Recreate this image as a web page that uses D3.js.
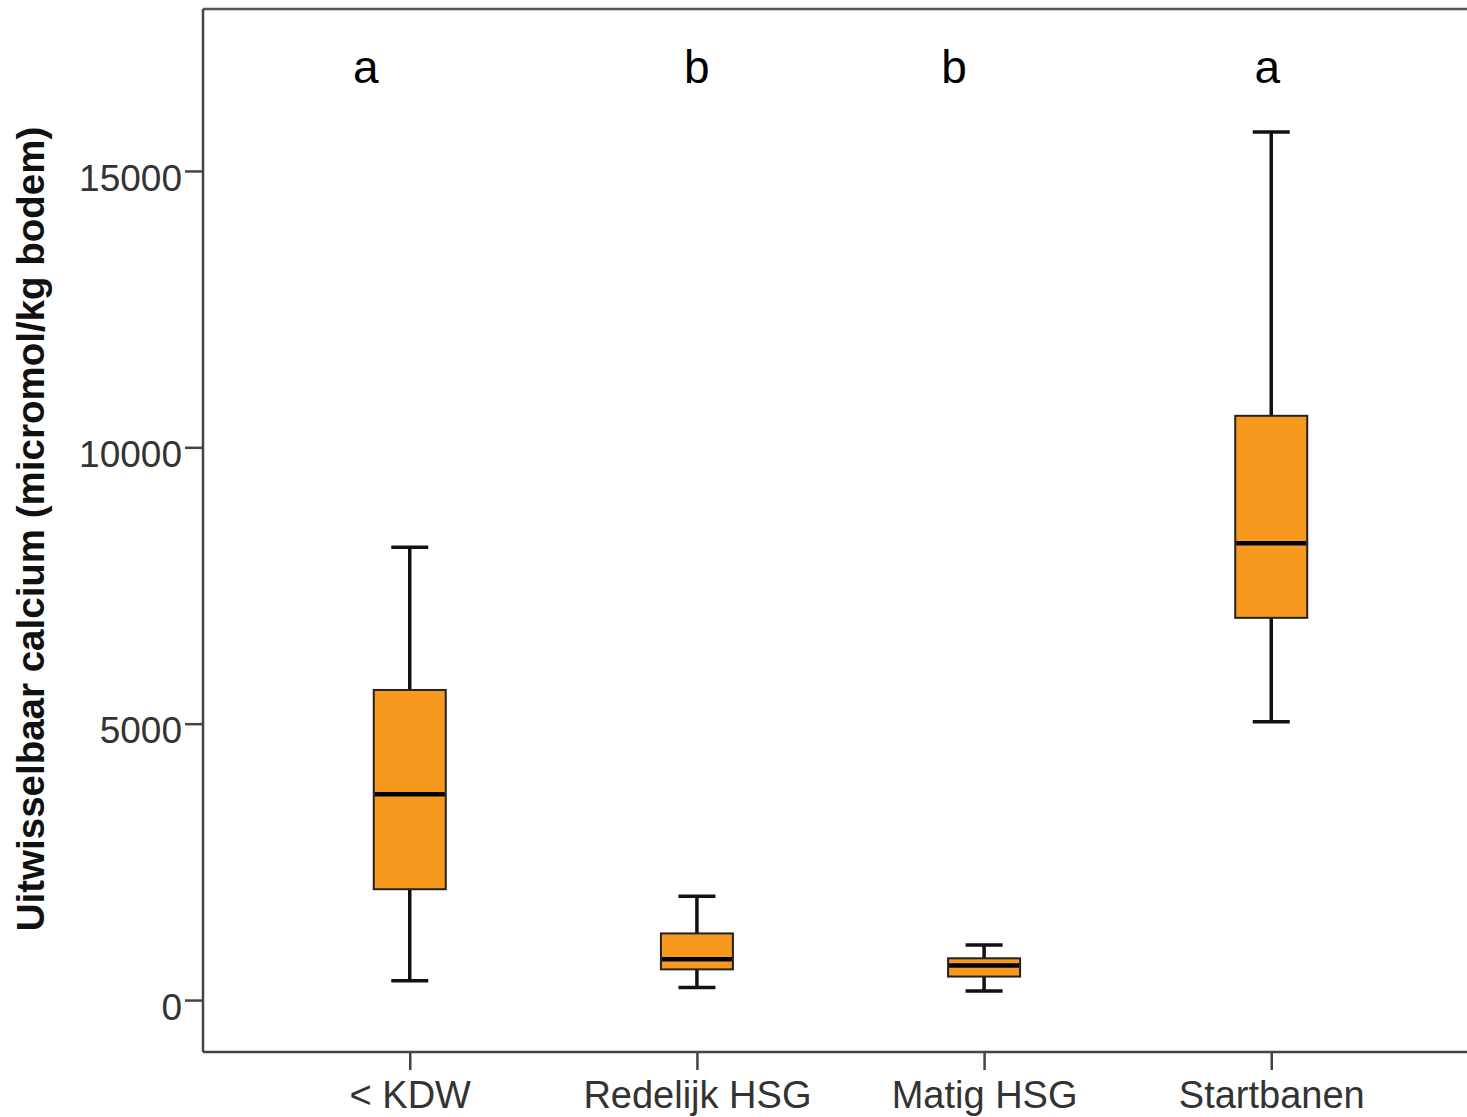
<!DOCTYPE html>
<html>
<head>
<meta charset="utf-8">
<script src="https://cdn.jsdelivr.net/npm/d3@7"></script>
<style>
  html, body { margin: 0; padding: 0; background: #fff; }
  svg { display: block; }
  text { font-family: "Liberation Sans", Arial, sans-serif; }
</style>
</head>
<body>
<svg id="chart" width="1467" height="1117"></svg>
<script>
// ---- Data ----
const categories = ["< KDW", "Redelijk HSG", "Matig HSG", "Startbanen"];
const whiskerLow  = [350, 225, 165, 5035];
const q1          = [2005, 555, 425, 6915];
const median      = [3725, 740, 625, 8265];
const q3          = [5610, 1205, 755, 10570];
const whiskerHigh = [8190, 1880, 995, 15705];
const groupLetters = ["a", "b", "b", "a"];
const yTicks = [0, 5000, 10000, 15000];
const yLabel = "Uitwisselbaar calcium (micromol/kg bodem)";

// ---- Layout ----
const svg = d3.select("#chart");
const plot = { left: 203, top: 9, right: 1478, bottom: 1052 };

const x = d3.scalePoint().domain(categories).range([plot.left, plot.right]).padding(0.72);
const y = d3.scaleLinear().domain([-940, 17930]).range([plot.bottom, plot.top]);

const boxW = 72, capW = 37;
const orange = "#f7991f";

const data = categories.map((c, i) => ({
  cat: c, lo: whiskerLow[i], q1: q1[i], med: median[i], q3: q3[i], hi: whiskerHigh[i], letter: groupLetters[i]
}));

// frame: top line
svg.append("line")
  .attr("x1", plot.left).attr("x2", 1467)
  .attr("y1", plot.top).attr("y2", plot.top)
  .attr("stroke", "#555").attr("stroke-width", 2.5);

// Y axis
const yAxis = svg.append("g")
  .attr("transform", `translate(${plot.left},0)`)
  .call(d3.axisLeft(y).tickValues(yTicks).tickSize(18).tickPadding(3).tickFormat(d3.format("d")));
yAxis.select(".domain").attr("stroke", "#444").attr("stroke-width", 2.5)
  .attr("d", `M0,${plot.top}V${plot.bottom}`);
yAxis.selectAll(".tick line").attr("stroke", "#444").attr("stroke-width", 2.5);
yAxis.selectAll(".tick text")
  .attr("font-size", 37).attr("fill", "#333").attr("dy", "0.52em")
  .style("font-family", "'Liberation Sans', Arial, sans-serif");

// X axis
const xAxis = svg.append("g")
  .attr("transform", `translate(0,${plot.bottom})`)
  .call(d3.axisBottom(x).tickSize(18).tickPadding(8).tickFormat(d => d));
xAxis.select(".domain").attr("stroke", "#444").attr("stroke-width", 2.5)
  .attr("d", `M${plot.left},0H1467`);
xAxis.selectAll(".tick line").attr("stroke", "#444").attr("stroke-width", 2.5);
xAxis.selectAll(".tick text")
  .attr("font-size", 38).attr("fill", "#333").attr("dy", "0.8em")
  .style("font-family", "'Liberation Sans', Arial, sans-serif");

// Boxes
const g = svg.append("g");
const box = g.selectAll("g.box").data(data).join("g").attr("class", "box");

// whiskers
box.append("line")
  .attr("x1", d => x(d.cat)).attr("x2", d => x(d.cat))
  .attr("y1", d => y(d.hi)).attr("y2", d => y(d.q3))
  .attr("stroke", "#111").attr("stroke-width", 3.5);
box.append("line")
  .attr("x1", d => x(d.cat)).attr("x2", d => x(d.cat))
  .attr("y1", d => y(d.q1)).attr("y2", d => y(d.lo))
  .attr("stroke", "#111").attr("stroke-width", 3.5);
// caps
box.append("line")
  .attr("x1", d => x(d.cat) - capW / 2).attr("x2", d => x(d.cat) + capW / 2)
  .attr("y1", d => y(d.hi)).attr("y2", d => y(d.hi))
  .attr("stroke", "#111").attr("stroke-width", 3.5);
box.append("line")
  .attr("x1", d => x(d.cat) - capW / 2).attr("x2", d => x(d.cat) + capW / 2)
  .attr("y1", d => y(d.lo)).attr("y2", d => y(d.lo))
  .attr("stroke", "#111").attr("stroke-width", 3.5);
// box
box.append("rect")
  .attr("x", d => x(d.cat) - boxW / 2).attr("width", boxW)
  .attr("y", d => y(d.q3)).attr("height", d => y(d.q1) - y(d.q3))
  .attr("fill", orange).attr("stroke", "#222").attr("stroke-width", 2);
// median
box.append("line")
  .attr("x1", d => x(d.cat) - boxW / 2 + 1).attr("x2", d => x(d.cat) + boxW / 2 - 1)
  .attr("y1", d => y(d.med)).attr("y2", d => y(d.med))
  .attr("stroke", "#000").attr("stroke-width", 4.5);

// group letters
const letterOffset = [-44, 0, -30, -4];
svg.append("g").selectAll("text").data(data).join("text")
  .attr("x", (d, i) => x(d.cat) + letterOffset[i])
  .attr("y", 83)
  .attr("text-anchor", "middle")
  .attr("font-size", 46)
  .attr("fill", "#000")
  .text(d => d.letter);

// Y label
svg.append("text")
  .attr("transform", "translate(44,529) rotate(-90)")
  .attr("text-anchor", "middle")
  .attr("font-size", 38.5)
  .attr("font-weight", "bold")
  .attr("fill", "#111")
  .text(yLabel);
</script>
</body>
</html>
